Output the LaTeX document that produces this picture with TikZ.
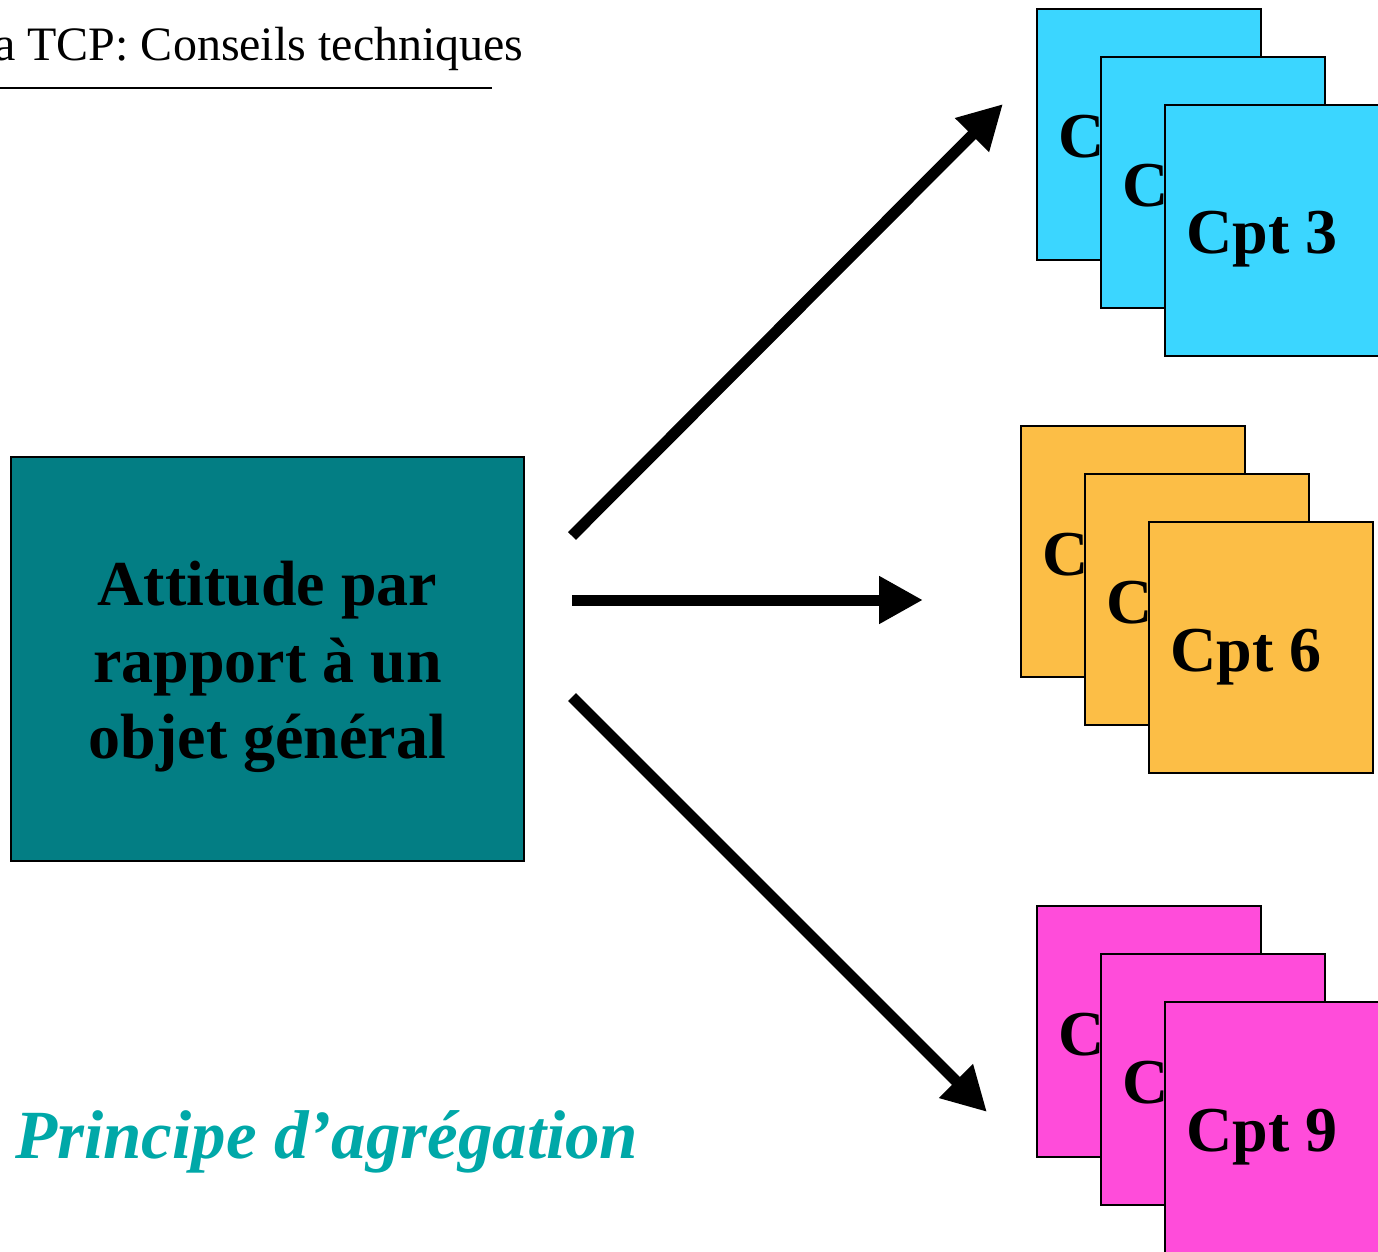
\documentclass[tikz,border=0pt]{standalone}
\usepackage{fontspec}
\setmainfont{Liberation Serif}
\usetikzlibrary{arrows.meta}
\definecolor{cblue}{RGB}{59,214,255}
\definecolor{corange}{RGB}{252,190,70}
\definecolor{cpink}{RGB}{255,76,218}
\definecolor{cteal}{RGB}{3,126,132}
\definecolor{cprinc}{RGB}{0,168,168}
\tikzset{
  card/.style={draw=black, line width=1pt, inner sep=0pt, anchor=north west,
    minimum width=112pt, minimum height=125.5pt},
  cptlabel/.style={anchor=base west, inner sep=0pt,
    font=\fontsize{32}{38}\selectfont\bfseries},
  bigarrow/.style={line width=5.5pt, line cap=butt,
    -{Triangle[length=22pt,width=22.5pt]}},
}
\begin{document}
\begin{tikzpicture}[x=0.5pt,y=-0.5pt]
\clip (0,0) rectangle (1378,1252);
\useasboundingbox (0,0) rectangle (1378,1252);

% title
\node[anchor=base east, inner sep=0pt, font=\fontsize{24}{29}\selectfont] (title) at (524,61) {a TCP: Conseils techniques};
\coordinate (ulA) at (0,88);
\coordinate (ulB) at (492,88);
\draw[line width=1pt] (ulA) -- (ulB);

% main box
\node[draw=black, line width=1pt, fill=cteal, inner sep=0pt,
  minimum width=256.5pt, minimum height=202pt] (main) at (267.5,659) {};
\node[align=center, inner sep=0pt, font=\fontsize{32}{38.25}\selectfont\bfseries] (maintext) at (267.5,667)
  {Attitude par\\rapport à un\\objet général};

% blue stack
\node[card, fill=cblue] (b1) at (1036,8) {};
\node[cptlabel] (lb1) at ([shift={(22,150)}]b1.north west) {C};
\node[card, fill=cblue] (b2) at (1100,56) {};
\node[cptlabel] (lb2) at ([shift={(22,150)}]b2.north west) {C};
\node[card, fill=cblue] (b3) at (1164,104) {};
\node[cptlabel] (lb3) at ([shift={(22,150)}]b3.north west) {Cpt 3};

% orange stack
\node[card, fill=corange] (o1) at (1020,425) {};
\node[cptlabel] (lo1) at ([shift={(22,150)}]o1.north west) {C};
\node[card, fill=corange] (o2) at (1084,473) {};
\node[cptlabel] (lo2) at ([shift={(22,150)}]o2.north west) {C};
\node[card, fill=corange] (o3) at (1148,521) {};
\node[cptlabel] (lo3) at ([shift={(22,150)}]o3.north west) {Cpt 6};

% pink stack
\node[card, fill=cpink] (p1) at (1036,905) {};
\node[cptlabel] (lp1) at ([shift={(22,150)}]p1.north west) {C};
\node[card, fill=cpink] (p2) at (1100,953) {};
\node[cptlabel] (lp2) at ([shift={(22,150)}]p2.north west) {C};
\node[card, fill=cpink] (p3) at (1164,1001) {};
\node[cptlabel] (lp3) at ([shift={(22,150)}]p3.north west) {Cpt 9};

% arrows
\coordinate (s1) at (572,536);
\coordinate (t1) at (1003,104);
\coordinate (s2) at (572,600);
\coordinate (t2) at (923,600);
\coordinate (s3) at (572,697);
\coordinate (t3) at (987,1112);
\draw[bigarrow] (s1) -- (t1);
\draw[bigarrow] (s2) -- (t2);
\draw[bigarrow] (s3) -- (t3);

% caption
\node[anchor=base west, inner sep=0pt, text=cprinc,
  font=\fontsize{34.5}{41}\selectfont\bfseries\itshape] (princ) at (15,1158) {Principe d’agrégation};
\end{tikzpicture}
\end{document}
